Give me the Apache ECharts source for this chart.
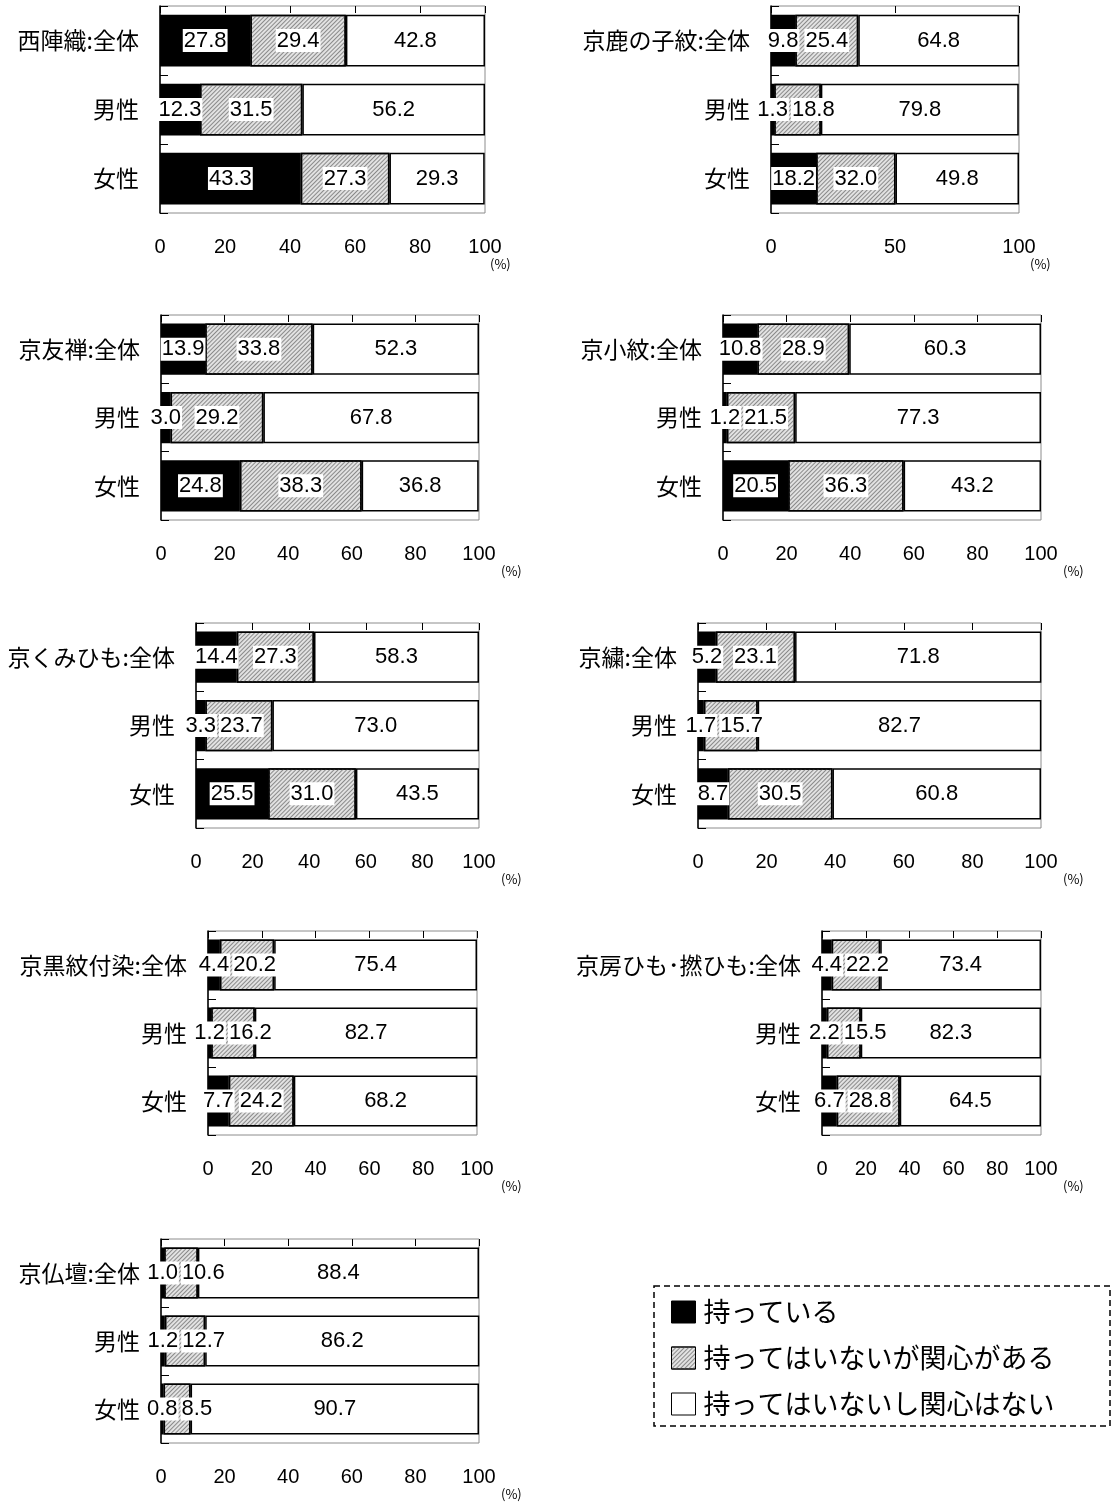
<!DOCTYPE html>
<html>
<head>
<meta charset="utf-8">
<script src="https://cdn.jsdelivr.net/npm/echarts@6/dist/echarts.min.js"></script>
<style>
  html, body { margin: 0; padding: 0; background: #fff; }
  #main { width: 1112px; height: 1504px; }
</style>
</head>
<body>
<div id="main"></div>
<script>
var dom = document.getElementById('main');
var myChart = echarts.init(dom, null, { renderer: 'canvas' });

// data
const panelNames = ['西陣織', '京鹿の子紋', '京友禅', '京小紋', '京くみひも', '京繍', '京黒紋付染', '京房ひも･撚ひも', '京仏壇'];
const groups = ['全体', '男性', '女性'];
const legendNames = ['持っている', '持ってはいないが関心がある', '持ってはいないし関心はない'];
const owned = [
  [27.8, 12.3, 43.3], [9.8, 1.3, 18.2], [13.9, 3.0, 24.8], [10.8, 1.2, 20.5], [14.4, 3.3, 25.5],
  [5.2, 1.7, 8.7], [4.4, 1.2, 7.7], [4.4, 2.2, 6.7], [1.0, 1.2, 0.8]
];
const interested = [
  [29.4, 31.5, 27.3], [25.4, 18.8, 32.0], [33.8, 29.2, 38.3], [28.9, 21.5, 36.3], [27.3, 23.7, 31.0],
  [23.1, 15.7, 30.5], [20.2, 16.2, 24.2], [22.2, 15.5, 28.8], [10.6, 12.7, 8.5]
];
const notInterested = [
  [42.8, 56.2, 29.3], [64.8, 79.8, 49.8], [52.3, 67.8, 36.8], [60.3, 77.3, 43.2], [58.3, 73.0, 43.5],
  [71.8, 82.7, 60.8], [75.4, 82.7, 68.2], [73.4, 82.3, 64.5], [88.4, 86.2, 90.7]
];
const tickSteps = [20, 50, 20, 20, 20, 20, 20, 20, 20];

// plot boxes: left, top, width, height, x of the (%) note
const boxes = [
  [160, 6, 325, 207, 500],
  [771, 6, 248, 207, 1040],
  [161, 315, 318, 205, 511],
  [723, 315, 318, 205, 1073],
  [196, 623, 283, 205, 511],
  [698, 623, 343, 205, 1073],
  [208, 931, 269, 204, 511],
  [822, 931, 219, 204, 1073],
  [161, 1239, 318, 204, 511]
];

const numFont = '"Liberation Sans", Arial, sans-serif';
const jpFont = '"Noto Sans CJK JP", sans-serif';

const hatch = {
  symbol: 'rect',
  symbolSize: 1,
  dashArrayX: [1, 0],
  dashArrayY: [1, 2],
  rotation: -Math.PI / 4,
  color: '#8a8a8a'
};
const segStyles = [
  { color: '#000', borderColor: '#000', borderWidth: 1.5 },
  { color: '#e2e2e2', borderColor: '#000', borderWidth: 1.5, decal: hatch },
  { color: '#fff', borderColor: '#000', borderWidth: 1.5 }
];
const segData = [owned, interested, notInterested];

// push a label right when it would sit on top of the previous one in the same bar
const lastRight = {};
function placeLabel(params) {
  const key = Math.floor(params.seriesIndex / 3) + '_' + params.dataIndex;
  const r = params.labelRect;
  let dx = 0;
  if (params.seriesIndex % 3 > 0 && lastRight[key] != null && r.x < lastRight[key] + 2) {
    dx = lastRight[key] + 2 - r.x;
  }
  lastRight[key] = r.x + r.width + dx;
  return { dx: dx };
}

var grids = [], xAxes = [], yAxes = [], series = [], graphics = [];

panelNames.forEach(function (name, i) {
  const b = boxes[i];
  grids.push({
    left: b[0], top: b[1], width: b[2], height: b[3],
    show: true, borderColor: '#8c8c8c', borderWidth: 1,
    containLabel: false, outerBoundsMode: 'none'
  });
  // top axis: ticks only
  xAxes.push({
    type: 'value', gridIndex: i, position: 'top', min: 0, max: 100, interval: tickSteps[i],
    axisLine: { show: false },
    axisTick: { show: true, inside: true, length: 7, lineStyle: { color: '#000', width: 1 } },
    axisLabel: { show: false },
    splitLine: { show: false }
  });
  // bottom axis: labels only
  xAxes.push({
    type: 'value', gridIndex: i, position: 'bottom', min: 0, max: 100, interval: tickSteps[i],
    axisLine: { show: false },
    axisTick: { show: false },
    splitLine: { show: false },
    axisLabel: { margin: 24, color: '#000', fontSize: 20, fontFamily: numFont }
  });
  yAxes.push({
    type: 'category', gridIndex: i, inverse: true,
    data: [name + ':' + groups[0], groups[1], groups[2]],
    axisLine: { show: true, lineStyle: { color: '#000', width: 1.5 } },
    axisTick: { show: true, inside: true, length: 8, lineStyle: { color: '#000', width: 1 } },
    axisLabel: { margin: 21, color: '#000', fontSize: 23, fontFamily: jpFont }
  });
  segData.forEach(function (arr, k) {
    series.push({
      name: legendNames[k],
      type: 'bar',
      stack: 'p' + i,
      xAxisIndex: i * 2 + 1,
      yAxisIndex: i,
      barCategoryGap: '25%',
      itemStyle: segStyles[k],
      label: {
        show: true,
        position: 'inside',
        formatter: function (p) { return p.value.toFixed(1); },
        color: '#000',
        backgroundColor: '#fff',
        padding: [1, 1, 0, 1],
        fontSize: 22,
        fontFamily: numFont
      },
      labelLayout: placeLabel,
      emphasis: { disabled: true },
      data: arr[i]
    });
  });
  graphics.push({
    type: 'text',
    left: b[4] - 10,
    top: b[1] + b[3] + 45,
    style: { text: '(%)', fontSize: 13, fill: '#000', fontFamily: jpFont }
  });
});

// dashed legend frame
graphics.push({
  type: 'rect',
  shape: { x: 654, y: 1286, width: 456, height: 140 },
  style: { fill: 'none', stroke: '#000', lineWidth: 1.5, lineDash: [6, 4] }
});

var option = {
  animation: false,
  backgroundColor: '#fff',
  grid: grids,
  xAxis: xAxes,
  yAxis: yAxes,
  series: series,
  graphic: graphics,
  legend: {
    data: legendNames,
    orient: 'vertical',
    left: 666,
    top: 1292,
    icon: 'rect',
    itemWidth: 24,
    itemHeight: 22,
    itemGap: 16,
    itemStyle: { borderWidth: 1 },
    selectedMode: false,
    textStyle: { fontSize: 27, lineHeight: 30, color: '#000', fontFamily: jpFont, padding: [0, 0, 0, 3] }
  }
};

myChart.setOption(option);
window.addEventListener('resize', myChart.resize);
</script>
</body>
</html>
